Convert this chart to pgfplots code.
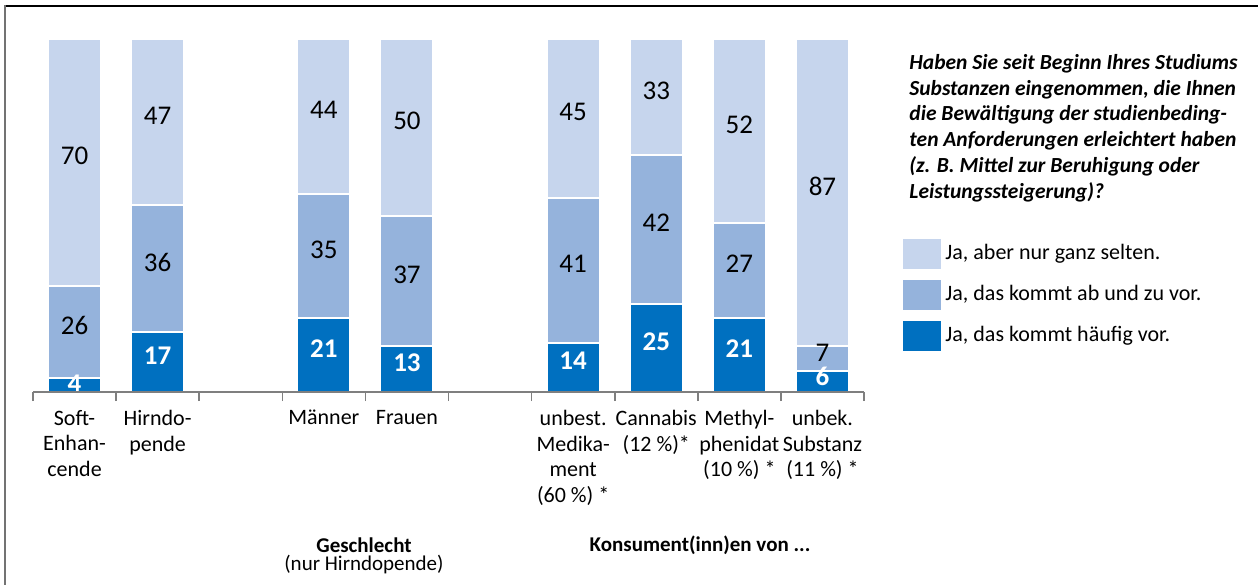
\documentclass[border=0pt]{standalone}
\usepackage{pgfplots}
\usepackage{pgfplotstable}
\pgfplotsset{compat=1.18}
\usepackage{fontspec}
\setmainfont{Carlito}
\definecolor{cLight}{HTML}{C6D5ED}
\definecolor{cMid}{HTML}{95B3DC}
\definecolor{cDark}{HTML}{0070C0}
\definecolor{axgray}{HTML}{7F7F7F}
\pgfplotstableread{
x dark mid light
0 4 26 70
1 17 36 47
3 21 35 44
4 13 37 50
6 14 41 45
7 25 42 33
8 21 27 52
9 6 7 87
}\data
% label positions: centre of each segment
\pgfplotstableread{
x yd ld ym lm yl ll
0 0.6 4 17 26 65 70
1 8.5 17 35 36 76.5 47
3 10.5 21 38.5 35 78 44
4 6.5 13 31.5 37 75 50
6 7 14 34.5 41 77.5 45
7 12.5 25 46 42 83.5 33
8 10.5 21 34.5 27 74 52
9 2.6 6 9.2 7 56.5 87
}\labels
\begin{document}
\begin{tikzpicture}[x=1pt,y=1pt]
\useasboundingbox (0,0) rectangle (629,292.5);
\draw[black, line width=0.8pt] (2.5,289.5) -- (629,289.5);
\draw[black!55, line width=1pt] (2.5,289.9) -- (2.5,0);
\begin{axis}[
  at={(16.5pt,96.5pt)}, anchor=south west,
  scale only axis, width=415.5pt, height=176.5pt,
  ybar stacked, bar width=26.5pt,
  xmin=-0.5, xmax=9.5, ymin=0, ymax=100,
  axis x line*=bottom, axis y line=none,
  axis on top,
  x axis line style={draw=axgray, line width=0.8pt},
  xtick={0,...,9},
  xticklabels={{Soft-\\Enhan-\\cende},{Hirndo-\\pende},{},{Männer},{Frauen},{},{unbest.\\Medika-\\ment\\(60 \%) *},{Cannabis\\(12 \%)*},{Methyl-\\phenidat\\(10 \%) *},{unbek.\\Substanz\\(11 \%) *}},
  major tick length=0pt,
  xticklabel style={align=center, font=\fontsize{11}{12.85}\selectfont, yshift=-5.5pt},
  extra x ticks={-0.5,0.5,...,9.5},
  extra x tick labels={},
  extra x tick style={major tick length=4.5pt, tick align=outside, tick style={draw=axgray, line width=0.8pt}},
  legend style={at={(1.0469,0.4334)}, anchor=north west, draw=none, fill=none, inner sep=0pt, row sep=5.5pt,
    font=\fontsize{11}{13}\selectfont, nodes={inner xsep=2pt, inner ysep=0pt}},
  legend cell align=left,
  reverse legend,
  legend image code/.code={\fill[#1,draw=none] (0pt,-8pt) rectangle (19pt,7pt);},
]
\addplot[fill=cDark, draw=white, line width=1pt] table[x=x, y=dark] {\data};
\addlegendentry{Ja, das kommt häufig vor.}
\addplot[fill=cMid, draw=white, line width=1pt] table[x=x, y=mid] {\data};
\addlegendentry{Ja, das kommt ab und zu vor.}
\addplot[fill=cLight, draw=white, line width=1pt] table[x=x, y=light] {\data};
\addlegendentry{Ja, aber nur ganz selten.}
\end{axis}
\begin{axis}[
  at={(16.5pt,96.5pt)}, anchor=south west,
  scale only axis, width=415.5pt, height=176.5pt,
  xmin=-0.5, xmax=9.5, ymin=0, ymax=100,
  hide axis, clip=false,
  nodes near coords={\pgfplotspointmeta},
  point meta=explicit symbolic,
  every node near coord/.append style={anchor=center, inner sep=0pt, yshift=3.2pt},
]
\addplot[only marks, mark=none, nodes near coords style={text=white, font=\fontsize{13.5}{15}\selectfont\bfseries}]
  table[x=x, y=yd, meta=ld] {\labels};
\addplot[only marks, mark=none, nodes near coords style={text=black, font=\fontsize{13.5}{15}\selectfont}]
  table[x=x, y=ym, meta=lm] {\labels};
\addplot[only marks, mark=none, nodes near coords style={text=black, font=\fontsize{13.5}{15}\selectfont}]
  table[x=x, y=yl, meta=ll] {\labels};
\end{axis}
\draw[axgray, line width=0.8pt] (16.5,96.5) -- (432,96.5);
\node[anchor=north west, align=left, inner sep=0pt, font=\fontsize{10.75}{12.9}\selectfont\bfseries\itshape] at (454.5,265.6)
 {Haben Sie seit Beginn Ihres Studiums\\Substanzen eingenommen, die Ihnen\\die Bewältigung der studienbeding-\\ten Anforderungen erleichtert haben\\(z. B. Mittel zur Beruhigung oder\\Leistungssteigerung)?};
\node[anchor=base, inner sep=0pt, font=\fontsize{10.5}{12}\selectfont\bfseries] at (182,16.5) {Geschlecht};
\node[anchor=base, inner sep=0pt, font=\fontsize{10.5}{12}\selectfont] at (182,7.5) {(nur Hirndopende)};
\node[anchor=base, inner sep=0pt, font=\fontsize{10.5}{12}\selectfont\bfseries] at (350,17) {Konsument(inn)en von ...};
\end{tikzpicture}
\end{document}
